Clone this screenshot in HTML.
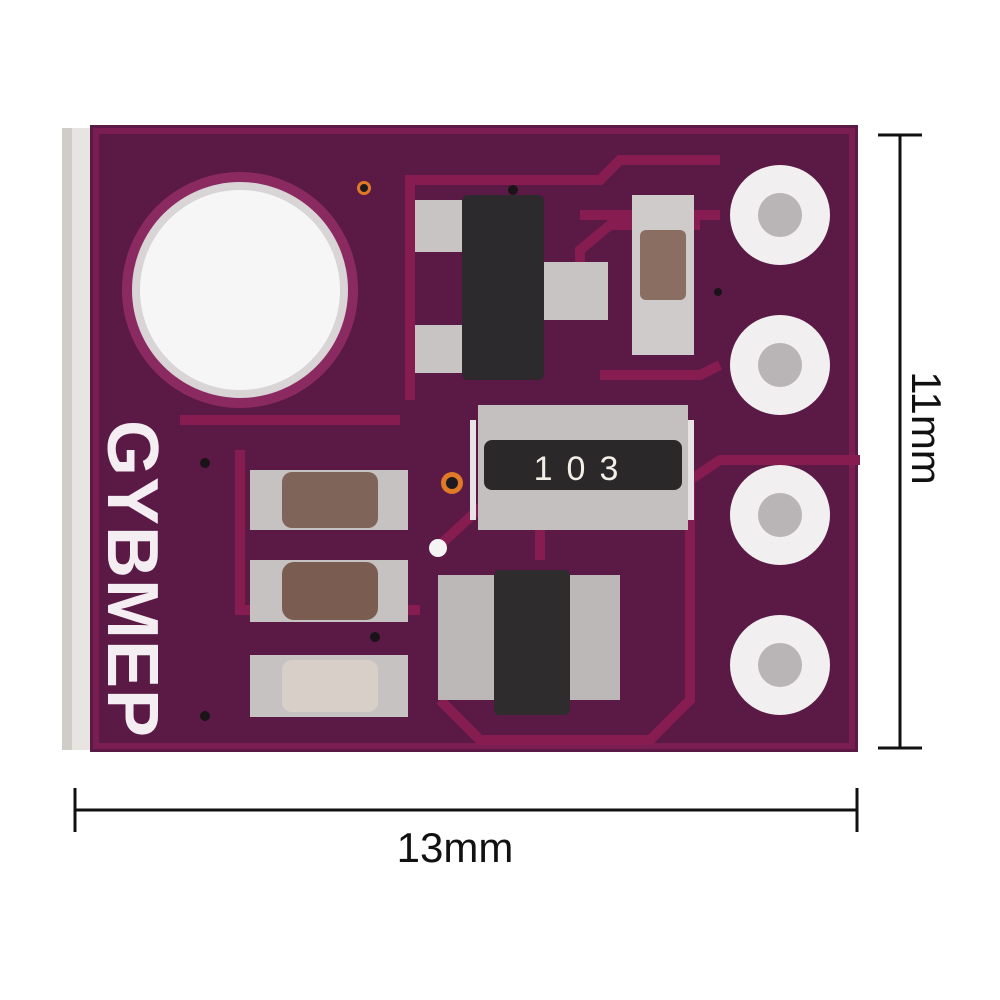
<!DOCTYPE html>
<html><head><style>
html,body{margin:0;padding:0;background:#fff;width:1000px;height:1000px;overflow:hidden}
</style></head><body>
<svg width="1000" height="1000" viewBox="0 0 1000 1000" xmlns="http://www.w3.org/2000/svg">
<rect width="1000" height="1000" fill="#fff"/>
<rect x="62" y="128" width="34" height="622" fill="#e8e4e2"/>
<rect x="62" y="128" width="10" height="622" fill="#d0ccc8"/>
<rect x="90" y="125" width="768" height="627" fill="#5a1a45"/>
<rect x="96" y="131" width="756" height="615" fill="none" stroke="#7a1e52" stroke-width="6"/>
<g stroke="#861c50" stroke-width="10" fill="none">
<path d="M580 215 L720 215"/>
<path d="M580 290 L580 250 L610 225 L700 225"/>
<path d="M440 545 L510 480 L690 480 L720 460 L860 460"/>
<path d="M690 480 L690 700 L650 740 L480 740 L440 700"/>
<path d="M600 375 L700 375 L720 365"/>
<path d="M410 400 L410 180 L600 180 L620 160 L720 160"/>
<path d="M240 450 L240 610 L420 610"/>
<path d="M180 420 L400 420"/>
<path d="M540 560 L540 510"/>
</g>
<circle cx="240" cy="290" r="118" fill="#8a2a60"/>
<circle cx="240" cy="290" r="108" fill="#d9d4d6"/>
<circle cx="240" cy="290" r="100" fill="#f7f6f6"/>
<text x="0" y="0" transform="translate(108,420) rotate(90)" font-family="Liberation Sans, sans-serif" font-size="72" font-weight="bold" fill="#f4eef2" letter-spacing="1">GYBMEP</text>
<g>
<circle cx="780" cy="215" r="50" fill="#f1efef"/><circle cx="780" cy="215" r="22" fill="#b9b4b6"/>
<circle cx="780" cy="365" r="50" fill="#f1efef"/><circle cx="780" cy="365" r="22" fill="#b9b4b6"/>
<circle cx="780" cy="515" r="50" fill="#f1efef"/><circle cx="780" cy="515" r="22" fill="#b9b4b6"/>
<circle cx="780" cy="665" r="50" fill="#f1efef"/><circle cx="780" cy="665" r="22" fill="#b9b4b6"/>
</g>
<rect x="415" y="200" width="52" height="52" fill="#c8c4c4"/>
<rect x="415" y="325" width="52" height="48" fill="#c8c4c4"/>
<rect x="540" y="262" width="68" height="58" fill="#c8c4c4"/>
<rect x="462" y="195" width="82" height="185" rx="6" fill="#2c2a2c"/>
<rect x="632" y="195" width="62" height="160" fill="#cfcbcb"/>
<rect x="640" y="230" width="46" height="70" rx="6" fill="#8a6e62"/>
<rect x="478" y="405" width="210" height="125" fill="#c4c0c0"/>
<rect x="470" y="420" width="6" height="100" fill="#e8e4e6"/>
<rect x="688" y="420" width="6" height="100" fill="#e8e4e6"/>
<rect x="484" y="440" width="198" height="50" rx="8" fill="#2a2829"/>
<text x="583" y="480" text-anchor="middle" font-family="Liberation Sans, sans-serif" font-size="34" fill="#f2efe6" letter-spacing="14">103</text>
<circle cx="452" cy="483" r="11" fill="#e07a26"/><circle cx="452" cy="483" r="6" fill="#1e1a22"/>
<circle cx="438" cy="548" r="9" fill="#f4f4f4"/>
<circle cx="364" cy="188" r="7" fill="#e07a26"/><circle cx="364" cy="188" r="4" fill="#1e1a22"/>
<rect x="438" y="575" width="58" height="125" fill="#bdb8b8"/>
<rect x="568" y="575" width="52" height="125" fill="#bdb8b8"/>
<rect x="494" y="570" width="76" height="145" rx="5" fill="#2e2c2d"/>
<g>
<rect x="250" y="470" width="158" height="60" fill="#c6c2c2"/>
<rect x="282" y="472" width="96" height="56" rx="10" fill="#7e6459"/>
<rect x="250" y="560" width="158" height="62" fill="#c6c2c2"/>
<rect x="282" y="562" width="96" height="58" rx="12" fill="#7a5c50"/>
<rect x="250" y="655" width="158" height="62" fill="#c6c2c2"/>
<rect x="282" y="660" width="96" height="52" rx="10" fill="#d8d0c8"/>
</g>
<circle cx="513" cy="190" r="5" fill="#1a1418"/>
<circle cx="205" cy="463" r="5" fill="#1a1418"/>
<circle cx="205" cy="716" r="5" fill="#1a1418"/>
<circle cx="375" cy="637" r="5" fill="#1a1418"/>
<circle cx="718" cy="292" r="4" fill="#1a1418"/>
<g stroke="#111" stroke-width="3">
<line x1="900" y1="135" x2="900" y2="748"/>
<line x1="878" y1="135" x2="922" y2="135"/>
<line x1="878" y1="748" x2="922" y2="748"/>
<line x1="75" y1="810" x2="857" y2="810"/>
<line x1="75" y1="788" x2="75" y2="832"/>
<line x1="857" y1="788" x2="857" y2="832"/>
</g>
<text x="455" y="862" text-anchor="middle" font-family="Liberation Sans, sans-serif" font-size="42" fill="#111">13mm</text>
<text x="0" y="0" transform="translate(912,428) rotate(90)" text-anchor="middle" font-family="Liberation Sans, sans-serif" font-size="42" fill="#111">11mm</text>
</svg>
</body></html>
